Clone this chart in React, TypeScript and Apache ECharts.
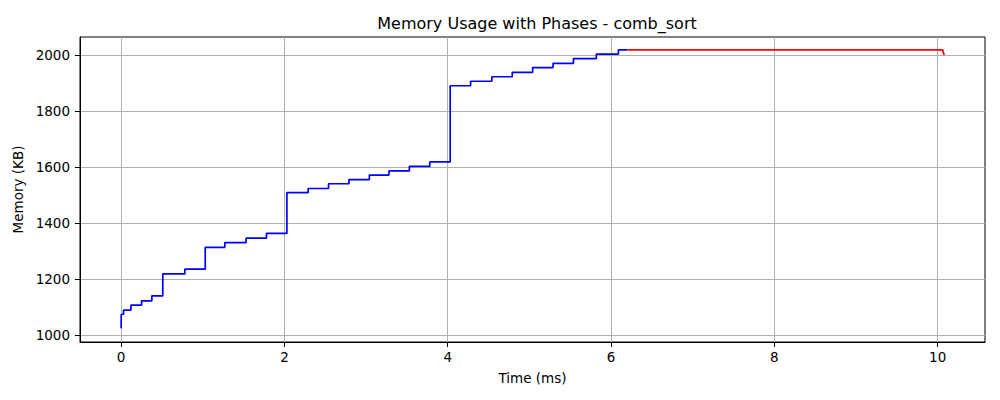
import React, { useEffect, useRef } from "react";
import * as echarts from "echarts";

const chartTitle = "Memory Usage with Phases - comb_sort";
const xAxisName = "Time (ms)";
const yAxisName = "Memory (KB)";
const xTicks = [0, 2, 4, 6, 8, 10];
const yTicks = [1000, 1200, 1400, 1600, 1800, 2000];

// Allocation phase (blue): time (ms) at which memory (KB) changes
const blueTimes = [0, 0.001, 0.03, 0.12, 0.25, 0.376, 0.51, 0.78, 1.03, 1.27, 1.53, 1.78, 2.03, 2.29, 2.54, 2.79, 3.04, 3.28, 3.53, 3.78, 4.03, 4.28, 4.54, 4.79, 5.04, 5.29, 5.54, 5.82, 6.09, 6.2];
const blueMem = [1024, 1074, 1089, 1107, 1122, 1140, 1218, 1235, 1313, 1330, 1346, 1363, 1508, 1523, 1540, 1555, 1571, 1586, 1602, 1618, 1890, 1906, 1922, 1938, 1955, 1970, 1987, 2003, 2018, 2018];

// Sorting phase (red)
const redTimes = [6.2, 10.06, 10.08];
const redMem = [2018, 2018, 2000];

const FONT = "DejaVu Sans";

export default function App() {
  const ref = useRef<HTMLDivElement>(null);
  useEffect(() => {
    if (!ref.current) return;
    const chart = echarts.init(ref.current, undefined, { renderer: "svg" });
    chart.setOption({
      animation: false,
      backgroundColor: "#ffffff",
      textStyle: { fontFamily: FONT },
      title: {
        text: chartTitle,
        left: 532,
        textAlign: "center",
        top: 10,
        textStyle: { fontFamily: FONT, fontSize: 16, fontWeight: "normal", color: "#000" },
      },
      grid: {
        left: 80,
        right: 15,
        top: 37,
        bottom: 58,
        show: true,
        borderColor: "#000",
        borderWidth: 1,
        backgroundColor: "transparent",
      },
      xAxis: {
        type: "value",
        min: -0.504,
        max: 10.58,
        name: xAxisName,
        nameLocation: "middle",
        nameGap: 29,
        nameTextStyle: { fontFamily: FONT, fontSize: 13.5, color: "#000" },
        axisLine: { show: true, onZero: false, lineStyle: { color: "#000", width: 1 } },
        axisTick: { show: true, length: 5, inside: false, customValues: xTicks, lineStyle: { color: "#000" } },
        axisLabel: { customValues: xTicks, margin: 8, fontFamily: FONT, fontSize: 13.5, color: "#000", formatter: (v: number) => String(v) },
        splitLine: { show: true, lineStyle: { color: "#b0b0b0", width: 1 } },
      },
      yAxis: {
        type: "value",
        min: 975,
        max: 2064,
        name: yAxisName,
        nameLocation: "middle",
        nameGap: 52,
        nameTextStyle: { fontFamily: FONT, fontSize: 13.5, color: "#000" },
        axisLine: { show: true, onZero: false, lineStyle: { color: "#000", width: 1 } },
        axisTick: { show: true, length: 5, inside: false, customValues: yTicks, lineStyle: { color: "#000" } },
        axisLabel: { customValues: yTicks, margin: 10, fontFamily: FONT, fontSize: 13.5, color: "#000", formatter: (v: number) => String(v) },
        splitLine: { show: true, lineStyle: { color: "#b0b0b0", width: 1 } },
      },
      series: [
        {
          type: "line",
          name: "allocation",
          step: "end",
          data: blueTimes.map((t, i) => [t, blueMem[i]]),
          showSymbol: false,
          lineStyle: { color: "#0000ff", width: 1.7 },
          itemStyle: { color: "#0000ff" },
        },
        {
          type: "line",
          name: "sorting",
          data: redTimes.map((t, i) => [t, redMem[i]]),
          showSymbol: false,
          lineStyle: { color: "#ff0000", width: 1.7 },
          itemStyle: { color: "#ff0000" },
        },
      ],
    });
    return () => chart.dispose();
  }, []);
  return <div ref={ref} style={{ position: "absolute", left: 0, top: 0, width: 1000, height: 400 }} />;
}
